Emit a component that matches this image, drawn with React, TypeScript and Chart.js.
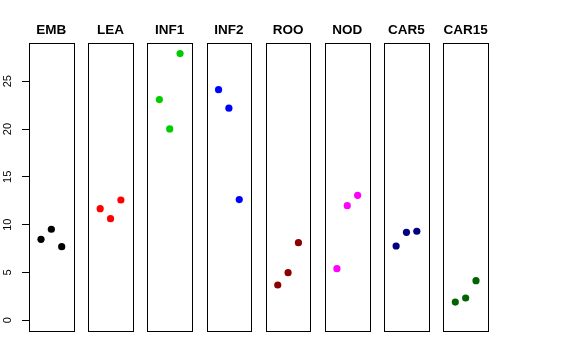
import React, { useEffect, useRef } from "react";
import { Chart, registerables } from "chart.js";

Chart.register(...registerables);

const panels = ["EMB", "LEA", "INF1", "INF2", "ROO", "NOD", "CAR5", "CAR15"];
const colors = ["#000000", "#FF0000", "#00CD00", "#0000FF", "#8B0000", "#FF00FF", "#000080", "#006400"];

const emb = [8.47, 9.52, 7.7];
const lea = [11.67, 10.63, 12.58];
const inf1 = [23.08, 20.01, 27.89];
const inf2 = [24.12, 22.18, 12.62];
const roo = [3.69, 4.98, 8.12];
const nod = [5.4, 11.99, 13.07];
const car5 = [7.77, 9.2, 9.31];
const car15 = [1.91, 2.33, 4.14];

const seriesValues = [emb, lea, inf1, inf2, roo, nod, car5, car15];
const yTicks = [0, 5, 10, 15, 20, 25];

const PANEL_STEP = 5.72;
const X_LO = -0.16;
const X_HI = 4.16;
const Y_MIN = -1.12;
const Y_MAX = 29.0;

const FONT = "'Liberation Sans', Arial, Helvetica, sans-serif";

const boxPlugin = {
  id: "panelBoxes",
  afterDatasetsDraw(chart: any) {
    const { ctx, chartArea, scales } = chart;
    const xs = scales.x;
    ctx.save();
    ctx.strokeStyle = "#000";
    ctx.lineWidth = 1;
    panels.forEach((_, i) => {
      const l = Math.round(xs.getPixelForValue(i * PANEL_STEP + X_LO)) + 0.5;
      const r = Math.round(xs.getPixelForValue(i * PANEL_STEP + X_HI)) + 0.5;
      const t = Math.round(chartArea.top) + 0.5;
      const b = Math.round(chartArea.bottom) + 0.5;
      ctx.strokeRect(l, t, r - l, b - t);
    });
    ctx.restore();
  },
};

export default function App() {
  const ref = useRef<HTMLCanvasElement | null>(null);
  useEffect(() => {
    if (!ref.current) return;
    const datasets = seriesValues.map((vals, i) => ({
      label: panels[i],
      data: vals.map((v, j) => ({ x: i * PANEL_STEP + j + 1, y: v })),
      backgroundColor: colors[i],
      borderColor: colors[i],
      borderWidth: 0,
      pointRadius: 3.6,
      pointHoverRadius: 3.6,
    }));
    const chart = new Chart(ref.current, {
      type: "scatter",
      data: { datasets },
      plugins: [boxPlugin],
      options: {
        animation: false,
        responsive: false,
        events: [],
        layout: { autoPadding: false, padding: { left: 0, right: 88, top: 0, bottom: 29 } },
        plugins: { legend: { display: false }, tooltip: { enabled: false } },
        scales: {
          x: {
            type: "linear",
            position: "top",
            min: X_LO,
            max: (panels.length - 1) * PANEL_STEP + X_HI,
            grid: { display: false, drawTicks: false },
            border: { display: false },
            afterBuildTicks: (scale: any) => {
              scale.ticks = panels.map((_, i) => ({ value: i * PANEL_STEP + 2 }));
            },
            afterFit: (scale: any) => {
              scale.height = 43;
            },
            ticks: {
              autoSkip: false,
              maxRotation: 0,
              minRotation: 0,
              padding: 5,
              color: "#000",
              font: { family: FONT, size: 13.5, weight: "bold" },
              callback: (_v: any, idx: number) => panels[idx],
            },
          },
          y: {
            type: "linear",
            position: "left",
            min: Y_MIN,
            max: Y_MAX,
            grid: { display: true, drawOnChartArea: false, drawTicks: true, tickLength: 7, color: "#000", lineWidth: 1 },
            border: { display: false },
            afterBuildTicks: (scale: any) => {
              scale.ticks = yTicks.map((v) => ({ value: v }));
            },
            afterFit: (scale: any) => {
              scale.width = 29;
            },
            ticks: {
              minRotation: 90,
              maxRotation: 90,
              crossAlign: "center",
              padding: 8,
              color: "#000",
              font: { family: FONT, size: 11 },
              callback: (v: any) => String(v),
            },
          },
        },
      } as any,
    });
    return () => chart.destroy();
  }, []);
  return (
    <div style={{ position: "absolute", left: 0, top: 0, width: 576, height: 360, background: "#fff" }}>
      <canvas ref={ref} width={576} height={360} style={{ display: "block" }} />
    </div>
  );
}
